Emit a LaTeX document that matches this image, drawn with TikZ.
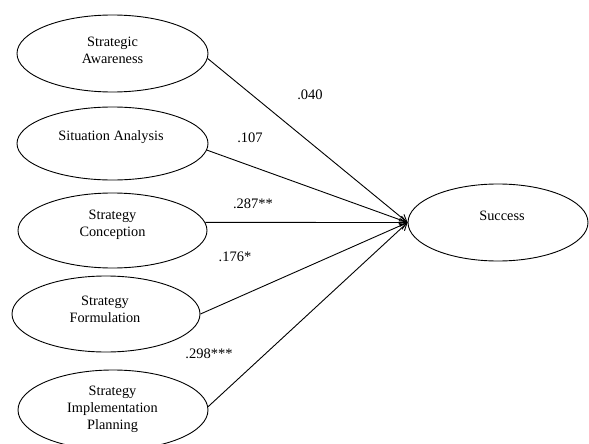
\documentclass[tikz,border=0pt]{standalone}
\usepackage{fontspec}
\setmainfont{Liberation Serif}
\usetikzlibrary{arrows.meta,shapes.geometric}
\begin{document}
\begin{tikzpicture}[x=1pt,y=-1pt,
  latent/.style={draw, ellipse, line width=0.9pt, inner sep=0pt},
  lbl/.style={font=\fontsize{14.3}{17}\selectfont, align=center, inner sep=0pt},
  coef/.style={font=\fontsize{14.5}{16}\selectfont, inner sep=0pt},
  conn/.style={line width=0.9pt, -{Straight Barb[length=7pt,width=8pt]}}]
\useasboundingbox (0,0) rectangle (589,444);
% ellipses
\node[latent, minimum width=191pt, minimum height=77pt] (e1) at (112.5,53.5) {};
\node[latent, minimum width=191pt, minimum height=73pt] (e2) at (112.5,143.5) {};
\node[latent, minimum width=189pt, minimum height=75pt] (e3) at (112.5,230.5) {};
\node[latent, minimum width=188pt, minimum height=76pt] (e4) at (106,314) {};
\node[latent, minimum width=190pt, minimum height=80pt] (e5) at (113,410) {};
\node[latent, minimum width=180pt, minimum height=77pt] (s) at (498,222.5) {};
% texts
\node[lbl] (t1) at (112.5,50) {Strategic\\Awareness};
\node[lbl] (t2) at (111,137) {Situation Analysis};
\node[lbl] (t3) at (112.5,225) {Strategy\\Conception};
\node[lbl] (t4) at (105,309) {Strategy\\Formulation};
\node[lbl] (t5) at (112.5,409.5) {Strategy\\Implementation\\Planning};
\node[lbl] (t6) at (502,216) {Success};
% connectors
\draw[conn] (e1.-3) -- (s.west);
\draw[conn] (e2.-4) -- (s.west);
\draw[conn] (e3.5) -- (s.west);
\draw[conn] (e4.east) -- (s.west);
\draw[conn] (e5.2) -- (s.west);
% coefficients
\node[coef] (c1) at (310,95) {.040};
\node[coef] (c2) at (250,138) {.107};
\node[coef] (c3) at (253,204) {.287**};
\node[coef] (c4) at (235,257) {.176*};
\node[coef] (c5) at (209,354) {.298***};
\end{tikzpicture}
\end{document}
